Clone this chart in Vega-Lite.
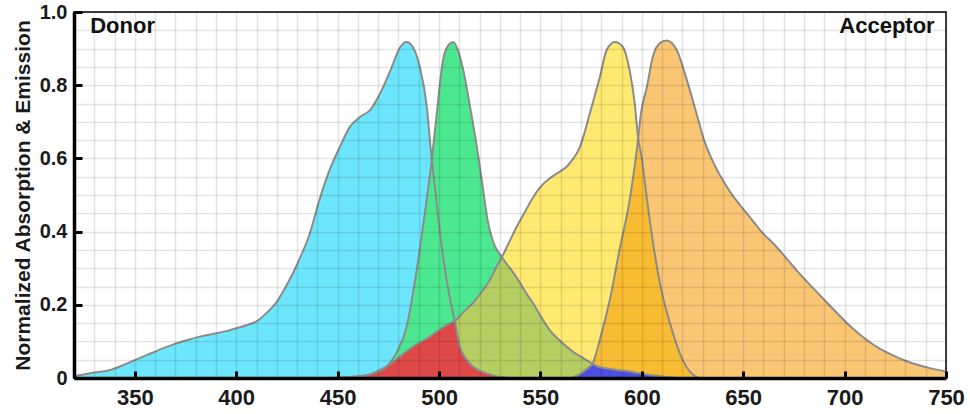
{
  "$schema": "https://vega.github.io/schema/vega-lite/v6.json",
  "width": 872,
  "height": 366,
  "autosize": "none",
  "padding": {"left": 74, "top": 12, "right": 24, "bottom": 36},
  "background": "white",
  "config": {"view": {"stroke": "black", "strokeWidth": 1.5}, "font": "Liberation Sans"},
  "resolve": {"axis": {"x": "independent", "y": "independent"}},
  "data": {"values": [
    {"s":"absD","w":320,"v":0.005},{"s":"absD","w":323,"v":0.008},{"s":"absD","w":330,"v":0.015},{"s":"absD","w":338,"v":0.022},{"s":"absD","w":345,"v":0.037},{"s":"absD","w":350,"v":0.049},{"s":"absD","w":356,"v":0.063},{"s":"absD","w":362,"v":0.077},{"s":"absD","w":369,"v":0.092},{"s":"absD","w":376,"v":0.104},{"s":"absD","w":382,"v":0.113},{"s":"absD","w":389,"v":0.121},{"s":"absD","w":395,"v":0.128},{"s":"absD","w":400,"v":0.136},{"s":"absD","w":405,"v":0.144},{"s":"absD","w":410,"v":0.155},{"s":"absD","w":415,"v":0.178},{"s":"absD","w":420,"v":0.208},{"s":"absD","w":424,"v":0.245},{"s":"absD","w":428,"v":0.287},{"s":"absD","w":432,"v":0.335},{"s":"absD","w":436,"v":0.39},{"s":"absD","w":441,"v":0.486},{"s":"absD","w":446,"v":0.568},{"s":"absD","w":451,"v":0.63},{"s":"absD","w":456,"v":0.686},{"s":"absD","w":461,"v":0.713},{"s":"absD","w":466,"v":0.732},{"s":"absD","w":471,"v":0.778},{"s":"absD","w":476,"v":0.84},{"s":"absD","w":481,"v":0.905},{"s":"absD","w":484,"v":0.918},{"s":"absD","w":487,"v":0.905},{"s":"absD","w":490.5,"v":0.85},{"s":"absD","w":494,"v":0.74},{"s":"absD","w":496,"v":0.62},{"s":"absD","w":498,"v":0.52},{"s":"absD","w":500,"v":0.42},{"s":"absD","w":502,"v":0.33},{"s":"absD","w":504,"v":0.26},{"s":"absD","w":506,"v":0.2},{"s":"absD","w":507.8,"v":0.156},{"s":"absD","w":510,"v":0.09},{"s":"absD","w":513,"v":0.055},{"s":"absD","w":516,"v":0.035},{"s":"absD","w":520,"v":0.02},{"s":"absD","w":525,"v":0.01},{"s":"absD","w":530,"v":0.003},{"s":"absD","w":535,"v":0},

    {"s":"emD","w":445,"v":0},{"s":"emD","w":455,"v":0.003},{"s":"emD","w":462,"v":0.006},{"s":"emD","w":468,"v":0.013},{"s":"emD","w":474,"v":0.03},{"s":"emD","w":479,"v":0.068},{"s":"emD","w":484,"v":0.14},{"s":"emD","w":488,"v":0.26},{"s":"emD","w":490.5,"v":0.35},{"s":"emD","w":494,"v":0.49},{"s":"emD","w":496.5,"v":0.6},{"s":"emD","w":499.4,"v":0.75},{"s":"emD","w":502,"v":0.87},{"s":"emD","w":505,"v":0.912},{"s":"emD","w":507,"v":0.918},{"s":"emD","w":509.3,"v":0.896},{"s":"emD","w":512,"v":0.84},{"s":"emD","w":515,"v":0.75},{"s":"emD","w":518.7,"v":0.63},{"s":"emD","w":521.6,"v":0.52},{"s":"emD","w":524,"v":0.43},{"s":"emD","w":526.5,"v":0.375},{"s":"emD","w":531,"v":0.33},{"s":"emD","w":535,"v":0.3},{"s":"emD","w":539,"v":0.268},{"s":"emD","w":543,"v":0.232},{"s":"emD","w":546.3,"v":0.205},{"s":"emD","w":550,"v":0.17},{"s":"emD","w":554.6,"v":0.131},{"s":"emD","w":559,"v":0.105},{"s":"emD","w":563,"v":0.085},{"s":"emD","w":567,"v":0.068},{"s":"emD","w":571,"v":0.055},{"s":"emD","w":575,"v":0.041},{"s":"emD","w":579,"v":0.03},{"s":"emD","w":583,"v":0.026},{"s":"emD","w":587.6,"v":0.022},{"s":"emD","w":592,"v":0.019},{"s":"emD","w":596,"v":0.016},{"s":"emD","w":600,"v":0.012},{"s":"emD","w":604,"v":0.008},{"s":"emD","w":610,"v":0.004},{"s":"emD","w":618,"v":0},

    {"s":"absA","w":455,"v":0},{"s":"absA","w":461,"v":0.003},{"s":"absA","w":466,"v":0.01},{"s":"absA","w":471,"v":0.022},{"s":"absA","w":476,"v":0.038},{"s":"absA","w":481,"v":0.06},{"s":"absA","w":487,"v":0.085},{"s":"absA","w":494,"v":0.108},{"s":"absA","w":500,"v":0.131},{"s":"absA","w":504,"v":0.145},{"s":"absA","w":507.8,"v":0.156},{"s":"absA","w":512,"v":0.18},{"s":"absA","w":516.7,"v":0.205},{"s":"absA","w":521,"v":0.235},{"s":"absA","w":525,"v":0.268},{"s":"absA","w":528,"v":0.3},{"s":"absA","w":531,"v":0.33},{"s":"absA","w":534.5,"v":0.37},{"s":"absA","w":538,"v":0.41},{"s":"absA","w":542,"v":0.45},{"s":"absA","w":546,"v":0.49},{"s":"absA","w":550,"v":0.522},{"s":"absA","w":554.6,"v":0.546},{"s":"absA","w":559,"v":0.562},{"s":"absA","w":563,"v":0.578},{"s":"absA","w":566,"v":0.598},{"s":"absA","w":569.4,"v":0.63},{"s":"absA","w":572,"v":0.675},{"s":"absA","w":574.4,"v":0.724},{"s":"absA","w":577,"v":0.775},{"s":"absA","w":579.3,"v":0.822},{"s":"absA","w":582.7,"v":0.896},{"s":"absA","w":586.7,"v":0.918},{"s":"absA","w":590.6,"v":0.905},{"s":"absA","w":594,"v":0.84},{"s":"absA","w":596.5,"v":0.75},{"s":"absA","w":598.2,"v":0.655},{"s":"absA","w":600,"v":0.6},{"s":"absA","w":602.5,"v":0.49},{"s":"absA","w":605.5,"v":0.37},{"s":"absA","w":608.9,"v":0.26},{"s":"absA","w":612.3,"v":0.18},{"s":"absA","w":615.5,"v":0.12},{"s":"absA","w":618.7,"v":0.068},{"s":"absA","w":622,"v":0.03},{"s":"absA","w":625,"v":0.01},{"s":"absA","w":628,"v":0},

    {"s":"emA","w":565,"v":0},{"s":"emA","w":570,"v":0.012},{"s":"emA","w":573,"v":0.025},{"s":"emA","w":575.8,"v":0.04},{"s":"emA","w":579.3,"v":0.104},{"s":"emA","w":584.2,"v":0.213},{"s":"emA","w":589,"v":0.35},{"s":"emA","w":594,"v":0.486},{"s":"emA","w":597,"v":0.6},{"s":"emA","w":598.2,"v":0.655},{"s":"emA","w":599.5,"v":0.72},{"s":"emA","w":602.5,"v":0.795},{"s":"emA","w":605.4,"v":0.877},{"s":"emA","w":608.9,"v":0.915},{"s":"emA","w":612.3,"v":0.922},{"s":"emA","w":617.2,"v":0.896},{"s":"emA","w":622,"v":0.818},{"s":"emA","w":627.1,"v":0.72},{"s":"emA","w":631,"v":0.645},{"s":"emA","w":635,"v":0.592},{"s":"emA","w":643.4,"v":0.51},{"s":"emA","w":653.2,"v":0.44},{"s":"emA","w":659.6,"v":0.396},{"s":"emA","w":664.6,"v":0.369},{"s":"emA","w":677,"v":0.29},{"s":"emA","w":691.5,"v":0.205},{"s":"emA","w":704,"v":0.135},{"s":"emA","w":709,"v":0.112},{"s":"emA","w":717.3,"v":0.08},{"s":"emA","w":725.7,"v":0.057},{"s":"emA","w":731,"v":0.045},{"s":"emA","w":742,"v":0.027},{"s":"emA","w":750,"v":0.018},

    {"s":"ovAA","w":565,"v":0},{"s":"ovAA","w":570,"v":0.012},{"s":"ovAA","w":573,"v":0.025},{"s":"ovAA","w":575.8,"v":0.04},{"s":"ovAA","w":579.3,"v":0.104},{"s":"ovAA","w":584.2,"v":0.213},{"s":"ovAA","w":589,"v":0.35},{"s":"ovAA","w":594,"v":0.486},{"s":"ovAA","w":597,"v":0.6},{"s":"ovAA","w":598.2,"v":0.655},{"s":"ovAA","w":600,"v":0.6},{"s":"ovAA","w":602.5,"v":0.49},{"s":"ovAA","w":605.5,"v":0.37},{"s":"ovAA","w":608.9,"v":0.26},{"s":"ovAA","w":612.3,"v":0.18},{"s":"ovAA","w":615.5,"v":0.12},{"s":"ovAA","w":618.7,"v":0.068},{"s":"ovAA","w":622,"v":0.03},{"s":"ovAA","w":625,"v":0.01},{"s":"ovAA","w":628,"v":0},

    {"s":"ovG","w":455,"v":0},{"s":"ovG","w":461,"v":0.003},{"s":"ovG","w":466,"v":0.006},{"s":"ovG","w":471,"v":0.02},{"s":"ovG","w":476,"v":0.038},{"s":"ovG","w":481,"v":0.06},{"s":"ovG","w":487,"v":0.085},{"s":"ovG","w":494,"v":0.108},{"s":"ovG","w":500,"v":0.131},{"s":"ovG","w":504,"v":0.145},{"s":"ovG","w":507.8,"v":0.156},{"s":"ovG","w":512,"v":0.18},{"s":"ovG","w":516.7,"v":0.205},{"s":"ovG","w":521,"v":0.235},{"s":"ovG","w":525,"v":0.268},{"s":"ovG","w":528,"v":0.3},{"s":"ovG","w":531,"v":0.33},{"s":"ovG","w":535,"v":0.3},{"s":"ovG","w":539,"v":0.268},{"s":"ovG","w":543,"v":0.232},{"s":"ovG","w":546.3,"v":0.205},{"s":"ovG","w":550,"v":0.17},{"s":"ovG","w":554.6,"v":0.131},{"s":"ovG","w":559,"v":0.105},{"s":"ovG","w":563,"v":0.085},{"s":"ovG","w":567,"v":0.068},{"s":"ovG","w":571,"v":0.055},{"s":"ovG","w":575,"v":0.041},{"s":"ovG","w":579,"v":0.03},{"s":"ovG","w":583,"v":0.026},{"s":"ovG","w":587.6,"v":0.022},{"s":"ovG","w":592,"v":0.019},{"s":"ovG","w":596,"v":0.016},{"s":"ovG","w":600,"v":0.012},{"s":"ovG","w":604,"v":0.008},{"s":"ovG","w":610,"v":0.004},{"s":"ovG","w":618,"v":0},

    {"s":"ovR","w":455,"v":0},{"s":"ovR","w":461,"v":0.003},{"s":"ovR","w":466,"v":0.01},{"s":"ovR","w":471,"v":0.022},{"s":"ovR","w":476,"v":0.038},{"s":"ovR","w":481,"v":0.06},{"s":"ovR","w":487,"v":0.085},{"s":"ovR","w":494,"v":0.108},{"s":"ovR","w":500,"v":0.131},{"s":"ovR","w":504,"v":0.145},{"s":"ovR","w":507.8,"v":0.156},{"s":"ovR","w":510,"v":0.09},{"s":"ovR","w":513,"v":0.055},{"s":"ovR","w":516,"v":0.035},{"s":"ovR","w":520,"v":0.02},{"s":"ovR","w":525,"v":0.01},{"s":"ovR","w":530,"v":0.003},{"s":"ovR","w":535,"v":0},

    {"s":"ovB","w":565,"v":0},{"s":"ovB","w":570,"v":0.012},{"s":"ovB","w":573,"v":0.025},{"s":"ovB","w":575,"v":0.036},{"s":"ovB","w":577,"v":0.035},{"s":"ovB","w":579,"v":0.03},{"s":"ovB","w":583,"v":0.026},{"s":"ovB","w":587.6,"v":0.022},{"s":"ovB","w":592,"v":0.019},{"s":"ovB","w":596,"v":0.016},{"s":"ovB","w":600,"v":0.012},{"s":"ovB","w":604,"v":0.008},{"s":"ovB","w":610,"v":0.004},{"s":"ovB","w":618,"v":0},

    {"s":"exc","w":458},
    {"s":"labD","w":328,"v":0.943,"t":"Donor"},
    {"s":"labA","w":744.4,"v":0.943,"t":"Acceptor"}
  ]},
  "encoding": {
    "x": {"field": "w", "type": "quantitative", "scale": {"domain": [320, 750], "nice": false, "zero": false}, "axis": null},
    "y": {"field": "v", "type": "quantitative", "scale": {"domain": [0, 1], "nice": false}, "axis": null}
  },
  "layer": [
    {"transform": [{"filter": "datum.s === 'absD'"}], "mark": {"type": "area", "color": "#6CE6FC", "interpolate": "monotone"},
     "encoding": {
       "x": {"field": "w", "type": "quantitative", "scale": {"domain": [320, 750], "nice": false, "zero": false},
             "axis": {"orient": "bottom", "values": [320,330,340,350,360,370,380,390,400,410,420,430,440,450,460,470,480,490,500,510,520,530,540,550,560,570,580,590,600,610,620,630,640,650,660,670,680,690,700,710,720,730,740,750],
                      "grid": true, "gridColor": "#000000", "gridOpacity": 0.1, "gridWidth": 1.6, "ticks": false, "labels": false, "domain": false, "title": null, "zindex": 1}},
       "y": {"field": "v", "type": "quantitative", "scale": {"domain": [0, 1], "nice": false},
             "axis": {"orient": "left", "values": [0,0.05,0.1,0.15,0.2,0.25,0.3,0.35,0.4,0.45,0.5,0.55,0.6,0.65,0.7,0.75,0.8,0.85,0.9,0.95,1],
                      "grid": true, "gridColor": "#000000", "gridOpacity": 0.1, "gridWidth": 1.6, "ticks": false, "labels": false, "domain": false, "title": null, "zindex": 1}}
     }},
    {"transform": [{"filter": "datum.s === 'emD'"}], "mark": {"type": "area", "color": "#4CE890", "interpolate": "monotone"}},
    {"transform": [{"filter": "datum.s === 'absA'"}], "mark": {"type": "area", "color": "#FFE970", "interpolate": "monotone"}},
    {"transform": [{"filter": "datum.s === 'emA'"}], "mark": {"type": "area", "color": "#FAC674", "interpolate": "monotone"}},
    {"transform": [{"filter": "datum.s === 'ovAA'"}], "mark": {"type": "area", "color": "#F8BC32", "interpolate": "monotone"}},
    {"transform": [{"filter": "datum.s === 'ovG'"}], "mark": {"type": "area", "color": "#B4CE62", "interpolate": "monotone"}},
    {"transform": [{"filter": "datum.s === 'ovR'"}], "mark": {"type": "area", "color": "#DE4848", "interpolate": "monotone"}},
    {"transform": [{"filter": "datum.s === 'ovB'"}], "mark": {"type": "area", "color": "#4F4FE2", "interpolate": "monotone"}},
    {"transform": [{"filter": "indexof(['absD','emD','absA','emA'], datum.s) >= 0"}], "mark": {"type": "line", "color": "#8C8C8C", "strokeWidth": 2, "interpolate": "monotone"}, "encoding": {"detail": {"field": "s"}}},
    {"transform": [{"filter": "datum.s === 'exc'"}], "mark": {"type": "rule", "color": "#1A5FD0", "strokeWidth": 4}, "encoding": {"y": {"datum": 0}, "y2": {"datum": 1}}},
    {"transform": [{"filter": "datum.s === 'labD'"}], "mark": {"type": "text", "align": "left", "baseline": "alphabetic", "font": "Liberation Sans", "fontWeight": "bold", "fontSize": 22, "color": "#111111"}, "encoding": {"text": {"field": "t"}}},
    {"transform": [{"filter": "datum.s === 'labA'"}], "mark": {"type": "text", "align": "right", "baseline": "alphabetic", "font": "Liberation Sans", "fontWeight": "bold", "fontSize": 22, "color": "#111111"},
     "encoding": {
       "text": {"field": "t"},
       "x": {"field": "w", "type": "quantitative", "scale": {"domain": [320, 750], "nice": false, "zero": false},
             "axis": {"orient": "bottom", "values": [350,400,450,500,550,600,650,700,750], "title": null, "zindex": 2, "grid": false,
                      "domainColor": "#000000", "domainWidth": 3.5, "ticks": true, "tickWidth": 3, "tickSize": -7, "tickColor": "#000000",
                      "labelFont": "Liberation Sans", "labelFontWeight": "bold", "labelFontSize": 22, "labelColor": "#1a1a1a",
                      "labelPadding": 16, "labelFlush": false, "labelOverlap": false, "labelBound": false}},
       "y": {"field": "v", "type": "quantitative", "scale": {"domain": [0, 1], "nice": false},
             "axis": {"orient": "left", "values": [0,0.2,0.4,0.6,0.8,1], "zindex": 2, "grid": false,
                      "labelExpr": "datum.value === 0 ? '0' : format(datum.value, '.1f')",
                      "title": "Normalized Absorption & Emission",
                      "titleFont": "Liberation Sans", "titleFontWeight": "bold", "titleFontSize": 21, "titleColor": "#1a1a1a", "titlePadding": 6,
                      "domainColor": "#000000", "domainWidth": 3.5, "ticks": true, "tickWidth": 3, "tickSize": -8, "tickColor": "#000000",
                      "labelFont": "Liberation Sans", "labelFontWeight": "bold", "labelFontSize": 20, "labelColor": "#1a1a1a",
                      "labelPadding": 15, "labelOverlap": false, "labelBound": false, "labelFlush": false}}
     }}
  ]
}
